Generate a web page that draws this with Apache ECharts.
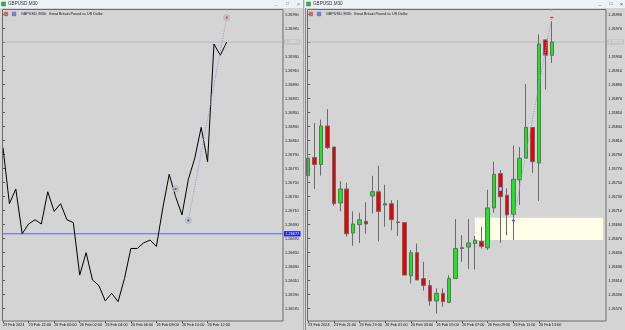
<!DOCTYPE html>
<html><head><meta charset="utf-8">
<script src="https://cdn.jsdelivr.net/npm/echarts@6/dist/echarts.min.js"></script>
<style>html,body{margin:0;padding:0;background:#d4d4d4}#c{width:625px;height:330px}</style>
</head><body><div id="c"></div>
<script>
// ---- data ----
const rightTimes = ["23 Feb 19:00","23 Feb 19:30","23 Feb 20:00","23 Feb 20:30","23 Feb 21:00","23 Feb 21:30","23 Feb 22:00","23 Feb 22:30","23 Feb 23:00","23 Feb 23:30",
"26 Feb 00:00","26 Feb 00:30","26 Feb 01:00","26 Feb 01:30","26 Feb 02:00","26 Feb 02:30","26 Feb 03:00","26 Feb 03:30","26 Feb 04:00","26 Feb 04:30",
"26 Feb 05:00","26 Feb 05:30","26 Feb 06:00","26 Feb 06:30","26 Feb 07:00","26 Feb 07:30","26 Feb 08:00","26 Feb 08:30","26 Feb 09:00","26 Feb 09:30",
"26 Feb 10:00","26 Feb 10:30","26 Feb 11:00","26 Feb 11:30","26 Feb 12:00","26 Feb 12:30","26 Feb 13:00","26 Feb 13:30","26 Feb 14:00"];
const opens  = [1.26760,1.26786,1.26776,1.26831,1.26801,1.26721,1.26741,1.26678,1.26690,1.26695,1.26731,1.26737,1.26718,1.26720,1.26694,1.26693,1.26617,1.26650,1.26613,1.26603,1.26581,1.26592,1.26579,1.26613,1.26657,1.26658,1.26663,1.26666,1.26657,1.26714,1.26763,1.26732,1.26705,1.26754,1.26785,1.26829,1.26778,1.26954,1.26932];
const closes = [1.26785,1.26776,1.26831,1.26800,1.26720,1.26741,1.26677,1.26691,1.26697,1.26691,1.26737,1.26709,1.26720,1.26697,1.26693,1.26618,1.26650,1.26611,1.26603,1.26581,1.26592,1.26580,1.26613,1.26656,1.26656,1.26664,1.26668,1.26659,1.26714,1.26762,1.26730,1.26704,1.26755,1.26785,1.26829,1.26780,1.26948,1.26932,1.26951];
const highs  = [1.26794,1.26835,1.26840,1.26855,1.26801,1.26752,1.26750,1.26709,1.26707,1.26722,1.26760,1.26774,1.26747,1.26725,1.26725,1.26693,1.26654,1.26663,1.26637,1.26611,1.26599,1.26599,1.26618,1.26698,1.26675,1.26698,1.26674,1.26687,1.26740,1.26780,1.26768,1.26742,1.26803,1.26801,1.26891,1.26829,1.26962,1.26954,1.26981];
const lows   = [1.26757,1.26741,1.26760,1.26798,1.26717,1.26709,1.26673,1.26660,1.26664,1.26677,1.26706,1.26666,1.26687,1.26682,1.26674,1.26618,1.26606,1.26611,1.26596,1.26574,1.26563,1.26573,1.26578,1.26613,1.26637,1.26627,1.26626,1.26656,1.26654,1.26707,1.26664,1.26675,1.26668,1.26718,1.26785,1.26764,1.26724,1.26883,1.26921];
const futureSlots = ["f1","f2","f3","f4","f5","f6","f7","f8"];
const rightLabelIndex = [0,4,8,12,16,20,24,28,32,36];
const rightLabelText = ["23 Feb 2024","23 Feb 21:00","23 Feb 23:00","26 Feb 01:00","26 Feb 03:00","26 Feb 05:00","26 Feb 07:00","26 Feb 09:00","26 Feb 11:00","26 Feb 13:00"];
const leftOffset = 3; // left line starts at the 4th bar of the right chart
const leftLabelIndex = [0,4,8,12,16,20,24,28,32];
const leftLabelText = ["23 Feb 2024","23 Feb 22:00","26 Feb 00:00","26 Feb 02:00","26 Feb 04:00","26 Feb 06:00","26 Feb 08:00","26 Feb 10:00","26 Feb 12:00"];
const priceTicks = [1.26990,1.26970,1.26950,1.26930,1.26910,1.26890,1.26870,1.26850,1.26830,1.26810,1.26790,1.26770,1.26750,1.26730,1.26710,1.26690,1.26670,1.26650,1.26630,1.26610,1.26590,1.26570];
const bidPrice = 1.26951;
const levelPrice = 1.26677;
const zonePrices = [1.26668, 1.26700];
const zoneBars = [26, 46];
const tradeEntry = [32, 1.26696];
const tradeExit = [38, 1.26986];
const tradeMarker = [30, 1.26741];

// ---- style / scales ----
const FONT = 'Liberation Sans';
const SMALL = 3.8;
const yMin = 1.265524, yMax = 1.269981;
const leftXMin = -0.109, leftXMax = 43.8;
const rightXMin = -0.5, rightXMax = 46.5;

const chart = echarts.init(document.getElementById('c'), null, {renderer: 'canvas'});

const leftLine = closes.slice(leftOffset).map((c, k) => [k, c]);
const L = i => i - leftOffset;
const candleData = opens.map((o, i) => [o, closes[i], lows[i], highs[i]]);
const rightCats = rightTimes.concat(futureSlots);

function yAxisCfg(gi) {
  return {
    type: 'value', gridIndex: gi, position: 'right', min: yMin, max: yMax,
    splitLine: {show: false}, axisLine: {show: false},
    axisTick: {show: true, length: 2, customValues: priceTicks, lineStyle: {color: '#555', width: 1}},
    axisLabel: {customValues: priceTicks, margin: 2, fontSize: SMALL, fontFamily: FONT, color: '#111',
      formatter: v => v.toFixed(5)}
  };
}

function priceLine(xi, yi, xmin, xmax, price, color, bg, fg) {
  return {
    type: 'line', xAxisIndex: xi, yAxisIndex: yi, silent: true, symbol: 'none', z: 2,
    data: [[xmin, price], [xmax, price]],
    lineStyle: {color: color, width: 1}, itemStyle: {color: color},
    endLabel: {show: true, distance: 1, fontSize: SMALL, fontFamily: FONT, backgroundColor: bg, color: fg,
      padding: [0.8, 1.4, 0.5, 1.4], formatter: () => price.toFixed(5)}
  };
}

const option = {
  backgroundColor: '#d4d4d4',
  animation: false,
  grid: [
    {left: 2, top: 9, width: 281, height: 312},
    {left: 305, top: 9, width: 301.3, height: 312}
  ],
  xAxis: [
    {type: 'value', gridIndex: 0, min: leftXMin, max: leftXMax, splitLine: {show: false}, axisLine: {show: false},
      axisTick: {show: true, length: 2, customValues: leftLabelIndex, lineStyle: {color: '#555'}},
      axisLabel: {customValues: leftLabelIndex, align: 'left', margin: 2, fontSize: SMALL, fontFamily: FONT, color: '#111',
        formatter: v => leftLabelText[leftLabelIndex.indexOf(Math.round(v))] || ''}},
    {type: 'category', gridIndex: 1, data: rightCats, boundaryGap: true, axisLine: {show: false}, splitLine: {show: false},
      axisTick: {show: true, length: 2, alignWithLabel: true, interval: i => rightLabelIndex.includes(i), lineStyle: {color: '#555'}},
      axisLabel: {interval: i => rightLabelIndex.includes(i), align: 'left', margin: 2, fontSize: SMALL, fontFamily: FONT, color: '#111',
        formatter: (v, i) => { const j = rightLabelIndex.indexOf(i); return j >= 0 ? rightLabelText[j] : ''; }}},
    {type: 'value', gridIndex: 1, min: rightXMin, max: rightXMax, show: false}
  ],
  yAxis: [yAxisCfg(0), yAxisCfg(1)],
  series: [
    priceLine(0, 0, leftXMin, leftXMax, bidPrice, '#bcbcbc', '#c3c3c3', '#eeeeee'),
    priceLine(0, 0, leftXMin, leftXMax, levelPrice, '#6464e2', '#2020f0', '#ffffff'),
    {
      type: 'line', xAxisIndex: 0, yAxisIndex: 0, data: leftLine, symbol: 'none', z: 3,
      lineStyle: {color: '#000', width: 1}, itemStyle: {color: '#000'},
      markLine: {
        silent: true, symbol: ['none', 'none'], animation: false,
        data: [
          [{coord: [L(tradeEntry[0]), tradeEntry[1]], lineStyle: {color: '#8ea6cf', width: 1, type: [1.2, 1.2]}, label: {show: false}},
           {coord: [L(tradeExit[0]), tradeExit[1]]}]
        ]
      }
    },
    {
      type: 'scatter', xAxisIndex: 0, yAxisIndex: 0, z: 4, symbol: 'circle', symbolSize: 6, silent: true,
      itemStyle: {color: 'rgba(196,196,196,0.9)', borderColor: '#aaaaaa', borderWidth: 0.8},
      data: [[L(tradeMarker[0]), tradeMarker[1]], [L(tradeEntry[0]), tradeEntry[1]], [L(tradeExit[0]), tradeExit[1]]]
    },
    {
      type: 'scatter', xAxisIndex: 0, yAxisIndex: 0, z: 5, symbol: 'rect', symbolSize: 2, silent: true,
      data: [
        {value: [L(tradeMarker[0]), tradeMarker[1]], itemStyle: {color: '#1f3fd8'}},
        {value: [L(tradeEntry[0]), tradeEntry[1]], itemStyle: {color: '#1f3fd8'}},
        {value: [L(tradeExit[0]), tradeExit[1]], itemStyle: {color: '#e02020'}}
      ]
    },
    {
      type: 'scatter', xAxisIndex: 1, yAxisIndex: 1, data: [], z: 1,
      markArea: {silent: true, itemStyle: {color: '#fdfde8'},
        data: [[{xAxis: zoneBars[0], yAxis: zonePrices[1]}, {xAxis: zoneBars[1], yAxis: zonePrices[0]}]]}
    },
    priceLine(2, 1, rightXMin, rightXMax, bidPrice, '#bcbcbc', '#c3c3c3', '#eeeeee'),
    {
      type: 'candlestick', xAxisIndex: 1, yAxisIndex: 1, data: candleData, barWidth: 4, z: 3,
      itemStyle: {color: '#11ee11', color0: '#ee0000', borderColor: '#6a6a6a', borderColor0: '#6a6a6a', borderWidth: 1},
      markLine: {
        silent: true, symbol: ['none', 'none'], animation: false,
        data: [
          [{coord: [tradeEntry[0], tradeEntry[1]], lineStyle: {color: '#8ea6cf', width: 1, type: [1.2, 1.2]}, label: {show: false}},
           {coord: [tradeExit[0], tradeExit[1]]}]
        ]
      }
    },
    {
      type: 'scatter', xAxisIndex: 1, yAxisIndex: 1, z: 5, symbol: 'rect', silent: true,
      data: [
        {value: [tradeMarker[0], tradeMarker[1]], symbolSize: [3, 4], itemStyle: {color: '#ffffff', borderColor: '#2a4ad8', borderWidth: 0.8}},
        {value: [tradeEntry[0], tradeEntry[1]], symbolSize: [3, 1.5], itemStyle: {color: '#1f3fd8'}},
        {value: [tradeExit[0], tradeExit[1]], symbolSize: [3, 1.5], itemStyle: {color: '#e02020'}}
      ]
    }
  ],
  graphic: [
    // title bars
    {type: 'rect', z: 50, shape: {x: 0, y: 0, width: 304, height: 8}, style: {fill: '#eef2f8'}},
    {type: 'rect', z: 50, shape: {x: 305, y: 0, width: 320, height: 8}, style: {fill: '#eef2f8'}},
    {type: 'rect', z: 51, shape: {x: 1.5, y: 2, width: 4, height: 4}, style: {fill: '#35b04a', stroke: '#2a8a3a', lineWidth: 0.5}},
    {type: 'rect', z: 51, shape: {x: 306.5, y: 2, width: 4, height: 4}, style: {fill: '#35b04a', stroke: '#2a8a3a', lineWidth: 0.5}},
    {type: 'text', z: 51, x: 8, y: 4, style: {text: 'GBPUSD,M30', fontSize: 4.6, fontFamily: FONT, fill: '#333', verticalAlign: 'middle'}},
    {type: 'text', z: 51, x: 313, y: 4, style: {text: 'GBPUSD,M30', fontSize: 4.6, fontFamily: FONT, fill: '#333', verticalAlign: 'middle'}},
    {type: 'text', z: 51, x: 276, y: 4, style: {text: '_', fontSize: 5, fontFamily: FONT, fill: '#888', align: 'center', verticalAlign: 'middle'}},
    {type: 'text', z: 51, x: 287.5, y: 4, style: {text: '□', fontSize: 5, fontFamily: FONT, fill: '#888', align: 'center', verticalAlign: 'middle'}},
    {type: 'text', z: 51, x: 298.5, y: 4, style: {text: '×', fontSize: 6, fontFamily: FONT, fill: '#888', align: 'center', verticalAlign: 'middle'}},
    {type: 'text', z: 51, x: 600, y: 4, style: {text: '_', fontSize: 5, fontFamily: FONT, fill: '#555', align: 'center', verticalAlign: 'middle'}},
    {type: 'text', z: 51, x: 611, y: 4, style: {text: '□', fontSize: 5, fontFamily: FONT, fill: '#555', align: 'center', verticalAlign: 'middle'}},
    {type: 'text', z: 51, x: 621.5, y: 4, style: {text: '×', fontSize: 6, fontFamily: FONT, fill: '#555', align: 'center', verticalAlign: 'middle'}},
    // window separators
    {type: 'line', z: 52, shape: {x1: 303.5, y1: 0, x2: 303.5, y2: 330}, style: {stroke: '#a8a8a8', lineWidth: 1}},
    {type: 'line', z: 52, shape: {x1: 305.5, y1: 8, x2: 305.5, y2: 330}, style: {stroke: '#8a8a8a', lineWidth: 1}},
    // plot borders
    {type: 'rect', z: 60, shape: {x: 2.5, y: 9.5, width: 280.5, height: 311.5}, style: {fill: 'none', stroke: '#6c6c6c', lineWidth: 1}},
    {type: 'rect', z: 60, shape: {x: 307.5, y: 9.5, width: 298.5, height: 311.5}, style: {fill: 'none', stroke: '#6c6c6c', lineWidth: 1}},
    // inner chart titles
    {type: 'rect', z: 61, shape: {x: 4, y: 12, width: 4, height: 4}, style: {fill: '#e06060', stroke: '#888', lineWidth: 0.4}},
    {type: 'rect', z: 61, shape: {x: 12, y: 12, width: 4, height: 4}, style: {fill: '#6a7fe0', stroke: '#888', lineWidth: 0.4}},
    {type: 'text', z: 61, x: 21, y: 14, style: {text: 'GBPUSD, M30:  Great Britain Pound vs US Dollar', fontSize: 3.7, fontFamily: FONT, fill: '#111', verticalAlign: 'middle'}},
    {type: 'rect', z: 61, shape: {x: 309, y: 12, width: 4, height: 4}, style: {fill: '#e06060', stroke: '#888', lineWidth: 0.4}},
    {type: 'rect', z: 61, shape: {x: 317, y: 12, width: 4, height: 4}, style: {fill: '#6a7fe0', stroke: '#888', lineWidth: 0.4}},
    {type: 'text', z: 61, x: 326, y: 14, style: {text: 'GBPUSD, M30:  Great Britain Pound vs US Dollar', fontSize: 3.7, fontFamily: FONT, fill: '#111', verticalAlign: 'middle'}}
  ]
};
chart.setOption(option);

// chart-shift markers at the top border, placed at the last bar through the axes
const xl = chart.convertToPixel({xAxisIndex: 0}, L(closes.length - 1));
const xr = chart.convertToPixel({xAxisIndex: 2}, closes.length - 1);
chart.setOption({graphic: option.graphic.concat([
  {type: 'polygon', z: 62, shape: {points: [[xl - 1.5, 9.5], [xl + 1.5, 9.5], [xl, 11]]}, style: {fill: '#9a9a9a'}},
  {type: 'polygon', z: 62, shape: {points: [[xr - 1.5, 9.5], [xr + 1.5, 9.5], [xr, 11]]}, style: {fill: '#9a9a9a'}}
])});
</script>
</body></html>
